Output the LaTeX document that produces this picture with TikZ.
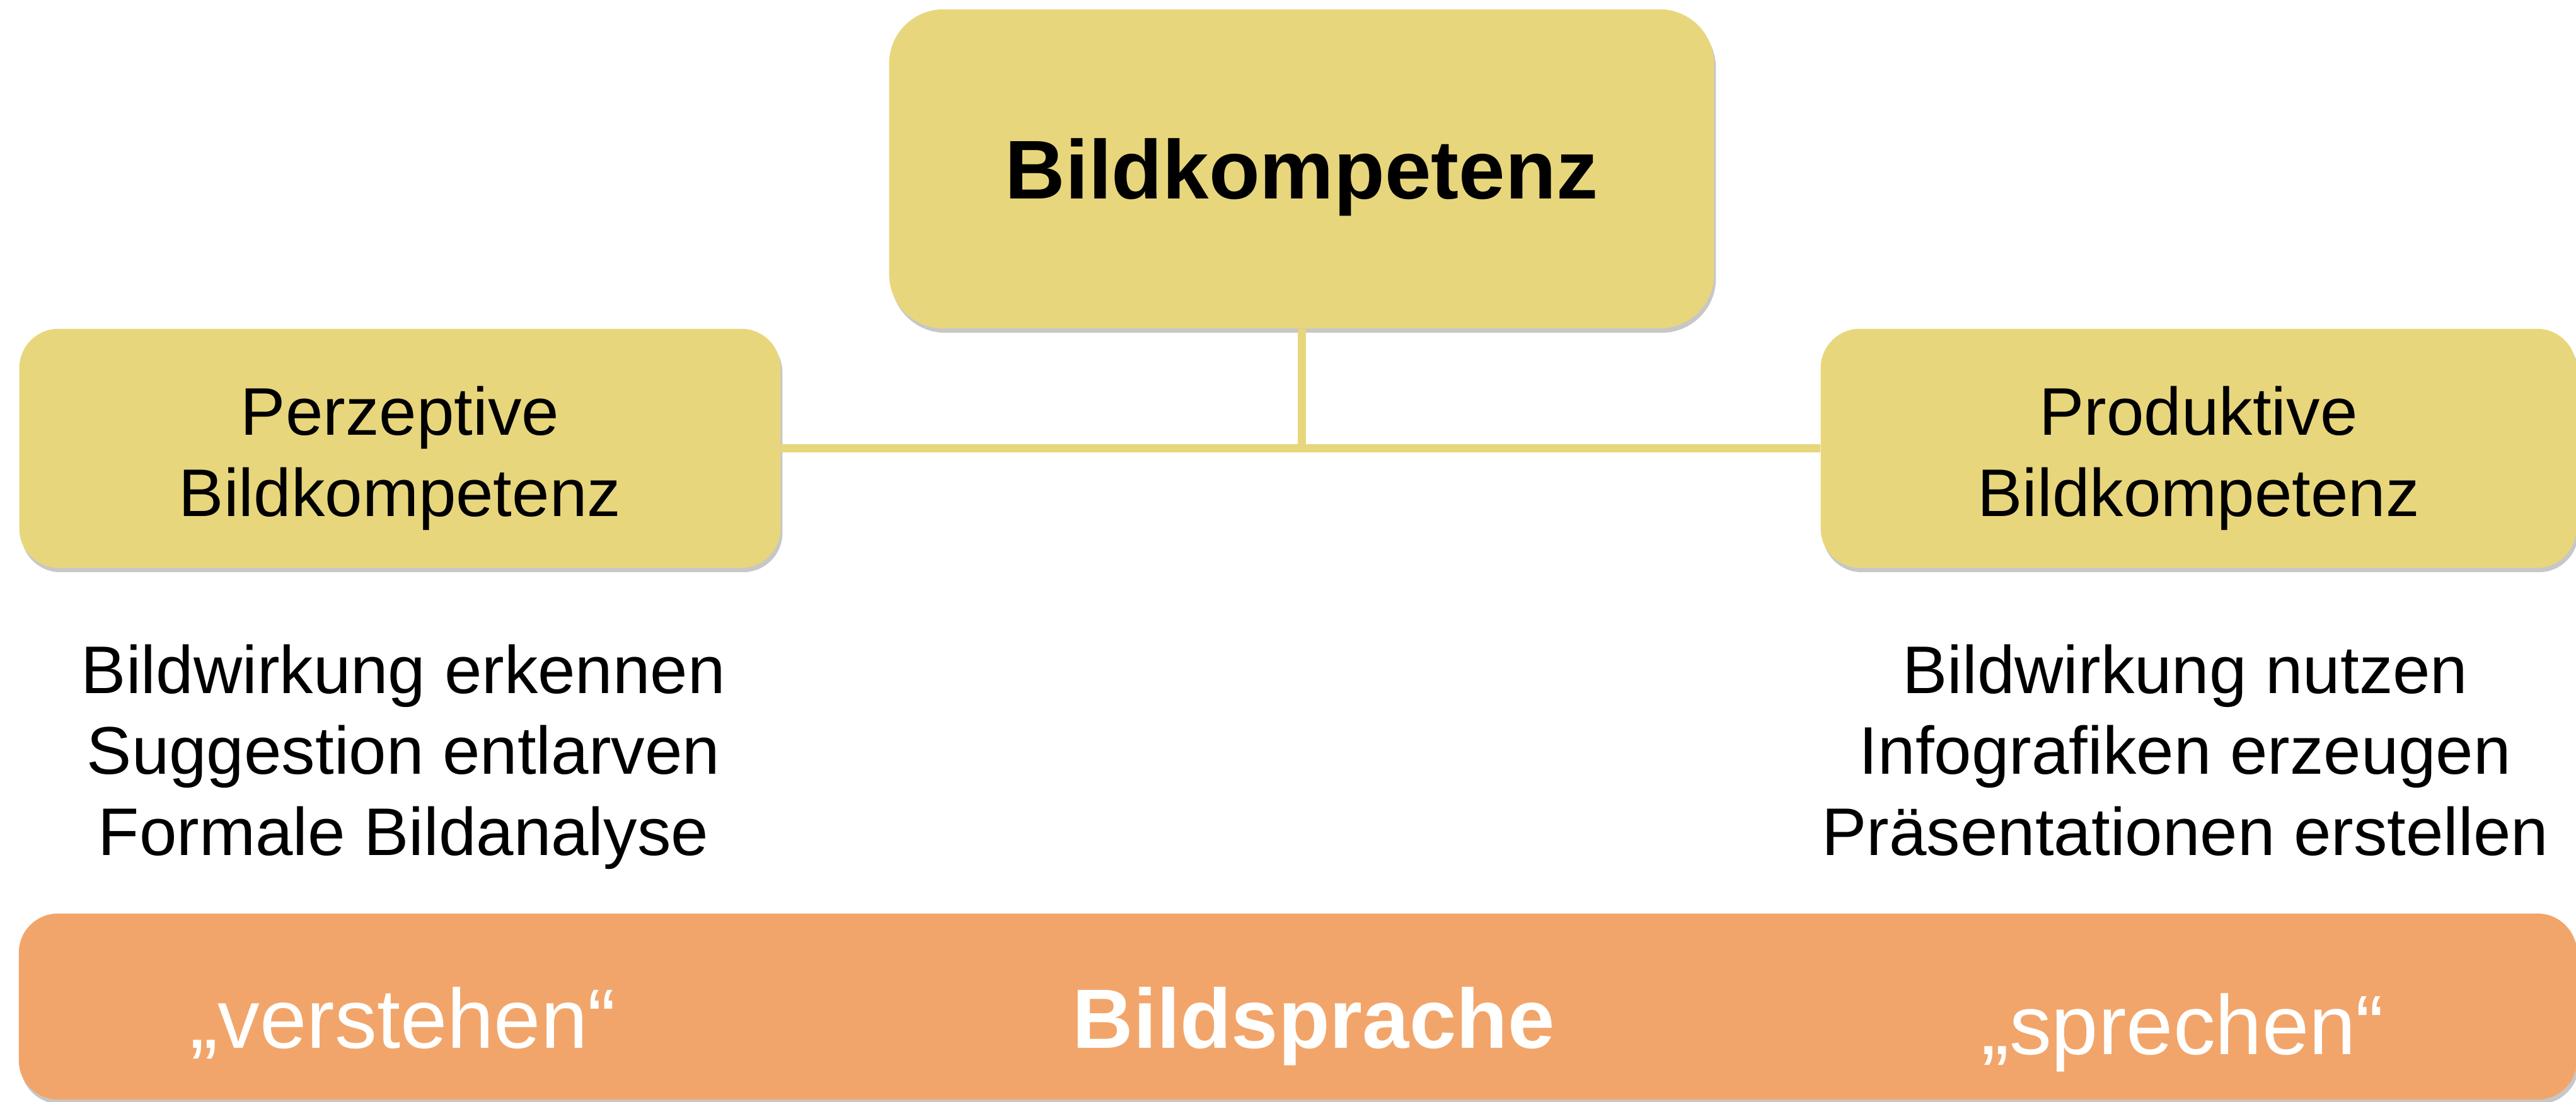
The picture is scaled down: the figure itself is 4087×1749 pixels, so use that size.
\documentclass[tikz,border=0pt]{standalone}
\usepackage{fontspec}
\setmainfont{Liberation Sans}
\usetikzlibrary{shadows}
\definecolor{boxyellow}{HTML}{E8D67C}
\definecolor{baseorange}{HTML}{F2A56A}

\begin{document}
\begin{tikzpicture}[x=0.01cm, y=-0.01cm,
    kbox/.style={rounded corners=0.62cm, fill=boxyellow, align=center,
        drop shadow={shadow xshift=0.03cm, shadow yshift=-0.07cm, opacity=0.4, fill=black!55},
        font=\fontsize{30.4}{36.5}\selectfont},
    listtext/.style={align=center, anchor=base, font=\fontsize{30.4}{36.5}\selectfont},
    bartext/.style={anchor=base, text=white, font=\fontsize{38}{45.6}\selectfont},
    link/.style={draw=boxyellow, line width=0.13cm}]
    \useasboundingbox (0,0) rectangle (4087,1749);

    \node [kbox, rounded corners=0.86cm, minimum width=13.08cm, minimum height=5.06cm, text depth=0pt,
        font=\fontsize{37.6}{45}\selectfont\bfseries] (top) at (2065,268) {Bildkompetenz};
    \node [kbox, minimum width=12.07cm, minimum height=3.79cm, text height=2.37cm, text depth=0.22cm] (perz) at (634.5,711.5) {Perzeptive\\Bildkompetenz};
    \node [kbox, minimum width=11.98cm, minimum height=3.79cm, text height=2.37cm, text depth=0.22cm] (prod) at (3488,711.5) {Produktive\\Bildkompetenz};

    \draw [link] (top.south) -- (top.south |- perz.east);
    \draw [link] (perz.east) -- (prod.west);

    \node [listtext] (perzlist) at (640,1357) {Bildwirkung erkennen\\Suggestion entlarven\\Formale Bildanalyse};
    \node [listtext] (prodlist) at (3467,1357) {Bildwirkung nutzen\\Infografiken erzeugen\\Präsentationen erstellen};

    \node [rounded corners=0.62cm, fill=baseorange, minimum width=40.56cm, minimum height=2.95cm,
        drop shadow={shadow xshift=0.03cm, shadow yshift=-0.07cm, opacity=0.4, fill=black!55}] (bar) at (2059,1597.5) {};
    \node [bartext] (verst) at (639,1663) {„verstehen“};
    \node [bartext, font=\fontsize{38}{45.6}\selectfont\bfseries] (bsprache) at (2084,1663) {Bildsprache};
    \node [bartext] (sprech) at (3463,1673) {„sprechen“};
\end{tikzpicture}
\end{document}
